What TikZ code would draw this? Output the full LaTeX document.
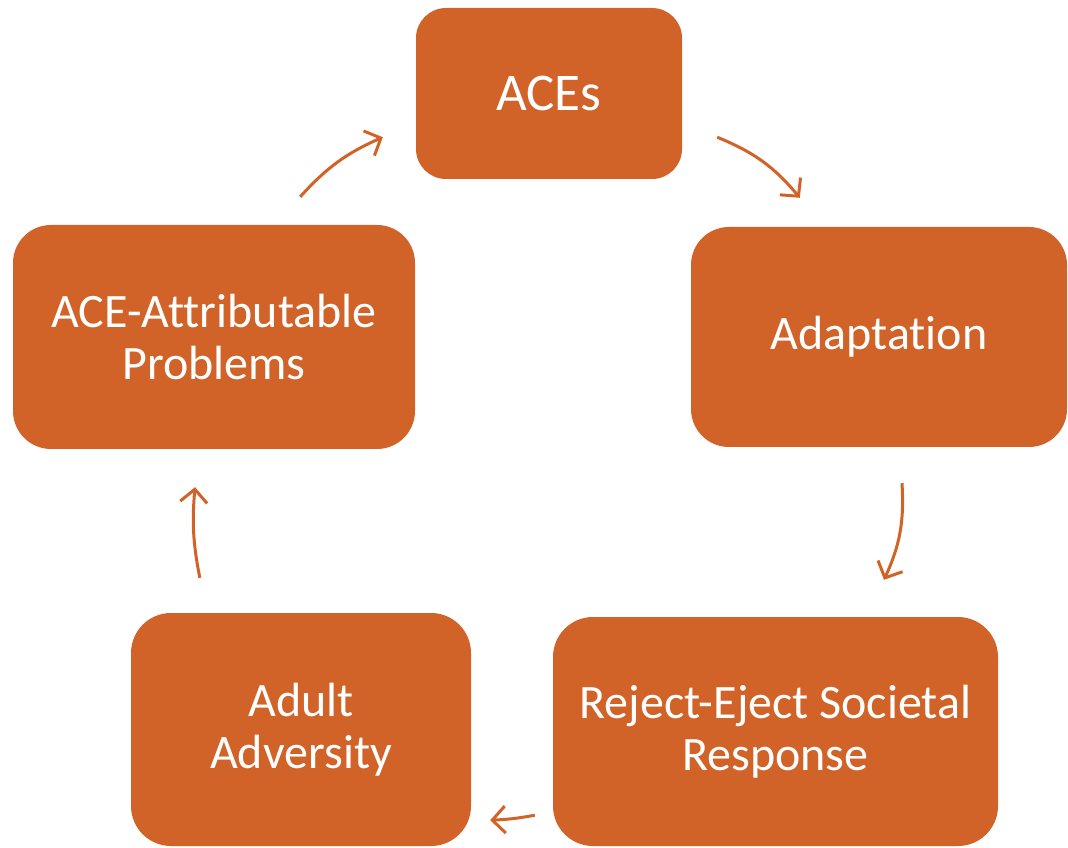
\documentclass[tikz,border=0pt]{standalone}
\usepackage{fontspec}
\setmainfont{Carlito}[Ligatures=NoCommon]
\usepackage{tikz}
\usetikzlibrary{arrows.meta, positioning, calc}
\definecolor{myorange}{RGB}{209,99,41}
\tikzset{
  stage/.style={rectangle, fill=myorange, text=white, align=center,
    font=\fontsize{48}{52}\selectfont, inner sep=0pt},
  cyc/.style={-{Straight Barb[length=13pt, width=27pt]}, line width=3pt, color=myorange}
}

\begin{document}
\begin{tikzpicture}[x=1pt, y=1pt]
\useasboundingbox (0,0) rectangle (1068,847);
\node[stage, minimum width=266pt, minimum height=171pt, rounded corners=30pt,
  font=\fontsize{53}{60}\selectfont] (aces) at (549,753.5) {ACEs};
\node[stage, minimum width=376pt, minimum height=220pt, rounded corners=38pt] (adapt) at (879,510) {Adaptation};
\node[stage, minimum width=445pt, minimum height=229pt, rounded corners=40pt] (reject) at (775.5,115.5) {Reject-Eject Societal\\Response};
\node[stage, minimum width=340pt, minimum height=233pt, rounded corners=40pt] (adult) at (301,117.5) {Adult\\Adversity};
\node[stage, minimum width=402pt, minimum height=224pt, rounded corners=38pt] (attrib) at (214,510) {ACE-Attributable\\Problems};
% arrows round the cycle
\draw[cyc] ([shift={(35,42)}]aces.south east) to[bend left=14] ([shift={(109,29)}]adapt.north west);
\draw[cyc] ([shift={(23,-36)}]adapt.south) to[bend left=14] ([shift={(108.5,37)}]reject.north);
\draw[cyc] ([shift={(-18,31)}]reject.south west) to[bend left=4] ([shift={(19,26)}]adult.south east);
\draw[cyc] ([shift={(69,35)}]adult.north west) to[bend left=8] ([shift={(-19,-38)}]attrib.south);
\draw[cyc] ([shift={(-115,28)}]attrib.north east) to[bend left=12] ([shift={(-33,42)}]aces.south west);
\end{tikzpicture}
\end{document}
